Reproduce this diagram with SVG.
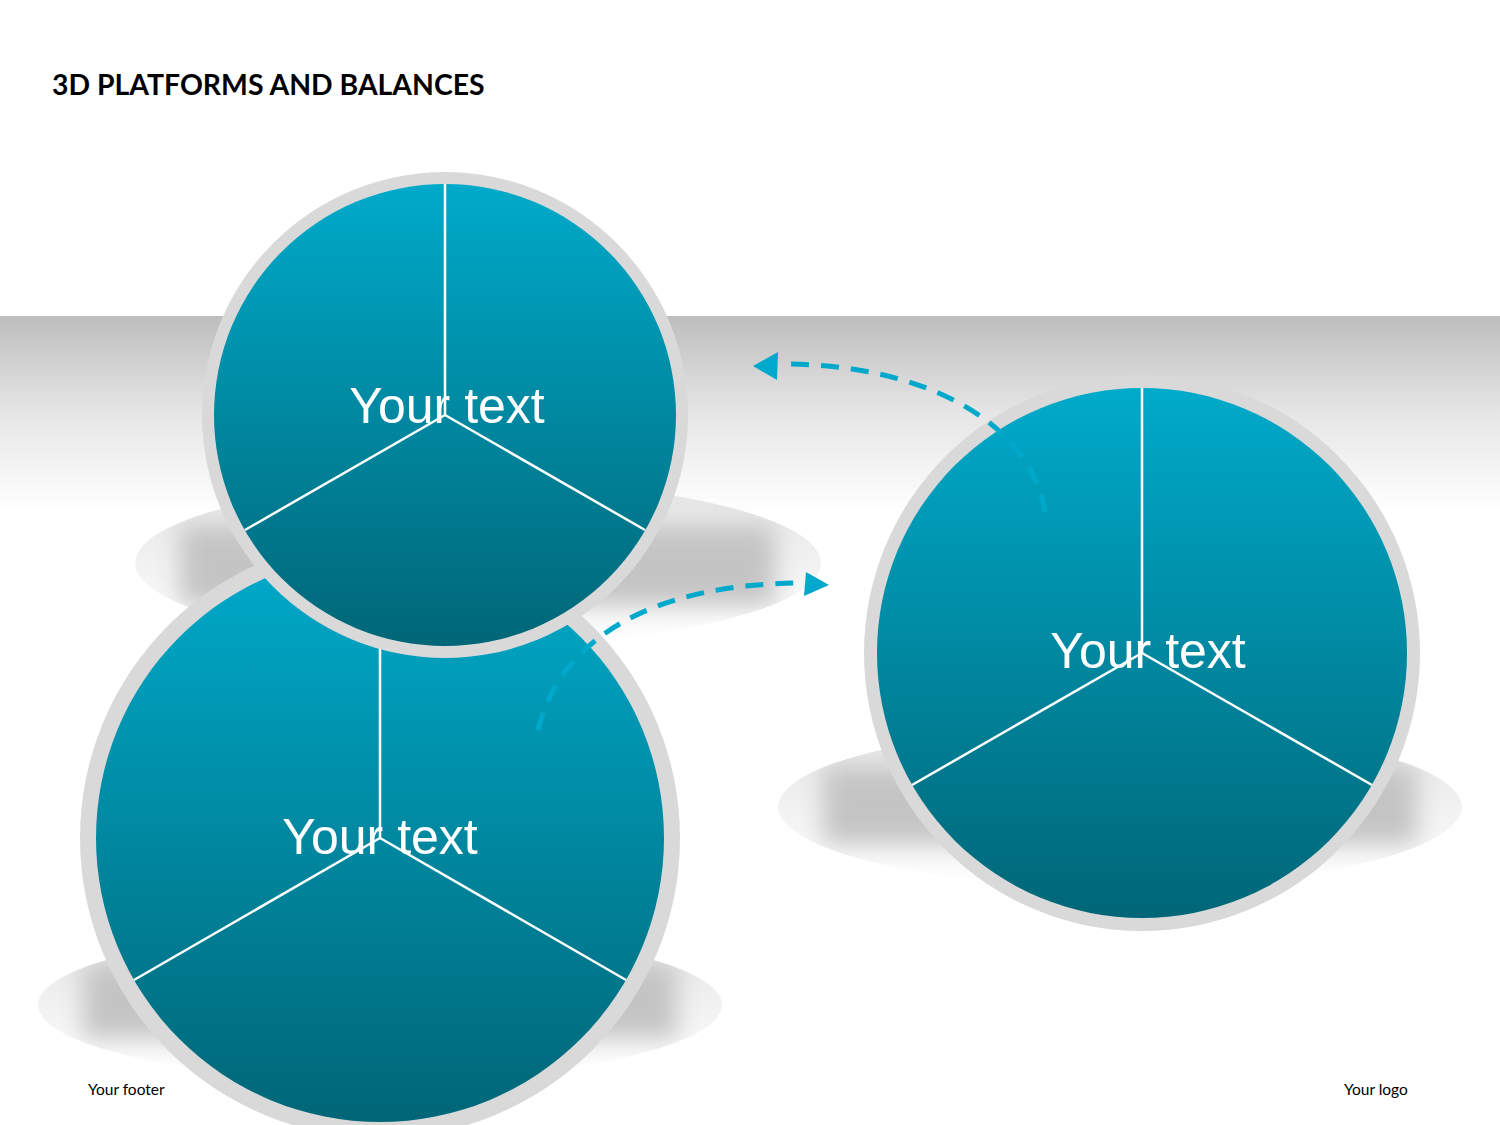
<svg xmlns="http://www.w3.org/2000/svg" width="1500" height="1125" viewBox="0 0 1500 1125">
<style>
.title{font-family:Lato,"Liberation Sans",sans-serif;font-weight:bold;font-size:28.4px;fill:#000}
.lbl{font-family:"Liberation Sans",Arial,sans-serif;font-size:50px;fill:#fff;text-anchor:middle}
.foot{font-family:Lato,"Liberation Sans",sans-serif;font-size:15.5px;fill:#000}
.ring{fill:#d9d9d9}
.disc{fill:url(#teal)}
.spoke{stroke:#fff;stroke-width:2.5;fill:none}
.arrow{stroke:#00a9cc;stroke-width:5;fill:none;stroke-dasharray:18 12}
.head{fill:#00a9cc}
</style>
<defs>
<linearGradient id="band" x1="0" y1="0" x2="0" y2="1">
<stop offset="0" stop-color="#bdbdbd"/>
<stop offset="0.5" stop-color="#e6e6e6"/>
<stop offset="1" stop-color="#ffffff"/>
</linearGradient>
<linearGradient id="teal" x1="0" y1="0" x2="0" y2="1">
<stop offset="0" stop-color="#00aaca"/>
<stop offset="1" stop-color="#006677"/>
</linearGradient>
<linearGradient id="shfill" x1="0" y1="0" x2="0" y2="1">
<stop offset="0" stop-color="#e4e4e4"/>
<stop offset="1" stop-color="#ffffff"/>
</linearGradient>
<filter id="blur" x="-20%" y="-50%" width="140%" height="200%">
<feGaussianBlur stdDeviation="12"/>
</filter>
<clipPath id="c1"><ellipse cx="478" cy="563" rx="343" ry="82"/></clipPath>
<clipPath id="c2"><ellipse cx="380" cy="1005" rx="342" ry="75"/></clipPath>
<clipPath id="c3"><ellipse cx="1120" cy="807" rx="342" ry="80"/></clipPath>
</defs>
<rect width="1500" height="1125" fill="#fff"/>
<rect x="0" y="316" width="1500" height="196" fill="url(#band)"/>
<text class="title" x="52" y="95">3D PLATFORMS AND BALANCES</text>

<g id="shadow1" clip-path="url(#c1)">
<ellipse cx="478" cy="563" rx="343" ry="82" fill="url(#shfill)"/>
<rect x="180" y="525" width="595" height="80" fill="#c4c4c4" filter="url(#blur)"/>
</g>
<g id="shadow2" clip-path="url(#c2)">
<ellipse cx="380" cy="1005" rx="342" ry="75" fill="url(#shfill)"/>
<rect x="83" y="962" width="594" height="76" fill="#c4c4c4" filter="url(#blur)"/>
</g>
<g id="shadow3" clip-path="url(#c3)">
<ellipse cx="1120" cy="807" rx="342" ry="80" fill="url(#shfill)"/>
<rect x="823" y="766" width="594" height="78" fill="#c4c4c4" filter="url(#blur)"/>
</g>

<g id="node-bottom-left">
<circle class="ring" cx="380" cy="838" r="300"/>
<circle class="disc" cx="380" cy="838" r="284"/>
<path class="spoke" d="M380,838 V554 M380,838 L134,980 M380,838 L626,980"/>
<text class="lbl" x="380" y="854">Your text</text>
</g>

<g id="node-top">
<circle class="ring" cx="445" cy="415" r="243"/>
<circle class="disc" cx="445" cy="415" r="231"/>
<path class="spoke" d="M445,415 V184 M445,415 L245,530 M445,415 L645,530"/>
<text class="lbl" x="447" y="423">Your text</text>
</g>

<g id="node-right">
<circle class="ring" cx="1142" cy="653" r="278"/>
<circle class="disc" cx="1142" cy="653" r="265"/>
<path class="spoke" d="M1142,653 V388 M1142,653 L912,785 M1142,653 L1372,785"/>
<text class="lbl" x="1148" y="668">Your text</text>
</g>

<g id="connectors">
<path class="arrow" d="M1045,512 C1030,420 920,363 780,364"/>
<polygon class="head" points="753,366 778,352 777,380"/>
<path class="arrow" d="M538,730 C560,640 650,583 805,583"/>
<polygon class="head" points="829,585 806,572 804,596"/>
</g>

<text class="foot" x="88" y="1095">Your footer</text>
<text class="foot" x="1344" y="1095">Your logo</text>
</svg>
